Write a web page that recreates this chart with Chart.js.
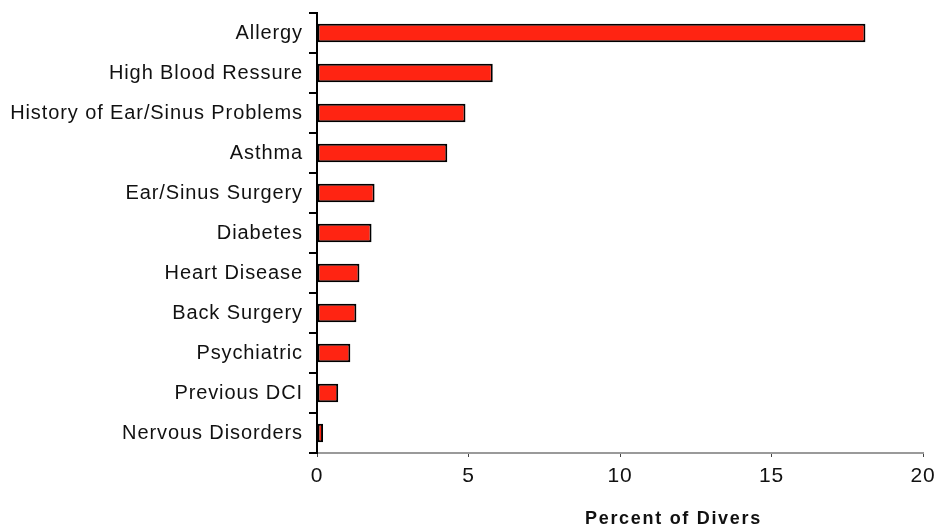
<!DOCTYPE html>
<html>
<head>
<meta charset="utf-8">
<script src="https://cdn.jsdelivr.net/npm/chart.js@4.4.1/dist/chart.umd.min.js"></script>
<style>
html,body{margin:0;padding:0;background:#fff;}
#wrap{width:940px;height:527px;position:relative;}
</style>
</head>
<body>
<div id="wrap"><canvas id="c" width="940" height="527"></canvas></div>
<script>
const categories = ["Allergy","High Blood Ressure","History of Ear/Sinus Problems","Asthma","Ear/Sinus Surgery","Diabetes","Heart Disease","Back Surgery","Psychiatric","Previous DCI","Nervous Disorders"];
const percentValues = [18.1, 5.8, 4.9, 4.3, 1.9, 1.8, 1.4, 1.3, 1.1, 0.7, 0.2];
const xTicks = [0, 5, 10, 15, 20];
const xTitle = "Percent of Divers";

const spacingPlugin = {
  id: 'spacing',
  beforeDraw(chart) { chart.ctx.letterSpacing = '0.9px'; },
  afterDraw(chart) {
    const ctx = chart.ctx;
    ctx.save();
    ctx.letterSpacing = '1.7px';
    ctx.font = 'bold 18px "Liberation Sans", Arial, sans-serif';
    ctx.fillStyle = '#111';
    ctx.textAlign = 'left';
    ctx.textBaseline = 'alphabetic';
    ctx.fillText(xTitle, 585, 524);
    ctx.restore();
  }
};

new Chart(document.getElementById('c'), {
  type: 'bar',
  data: {
    labels: categories,
    datasets: [{
      data: percentValues,
      backgroundColor: '#ff2412',
      borderColor: '#000',
      borderWidth: 2,
      borderSkipped: false,
      barPercentage: 0.46,
      categoryPercentage: 1.0
    }]
  },
  options: {
    indexAxis: 'y',
    responsive: false,
    animation: false,
    devicePixelRatio: 1,
    layout: { padding: { top: 13, right: 17, bottom: 0, left: 0 } },
    plugins: { legend: { display: false }, tooltip: { enabled: false } },
    scales: {
      x: {
        type: 'linear',
        min: 0, max: 20,
        afterBuildTicks(scale) { scale.ticks = xTicks.map(v => ({ value: v })); },
        afterFit(scale) { scale.height = 74; scale.paddingLeft = 0; scale.paddingRight = 0; },
        border: { display: true, color: '#9a9a9a', width: 2 },
        grid: { display: true, drawOnChartArea: false, drawTicks: true, tickLength: 4, color: '#444', lineWidth: 1 },
        ticks: { font: { family: '"Liberation Sans", Arial, sans-serif', size: 21 }, color: '#111', padding: 7, maxRotation: 0 }
      },
      y: {
        afterFit(scale) { scale.width = 317; scale.paddingTop = 0; scale.paddingBottom = 0; },
        border: { display: true, color: '#000', width: 2 },
        grid: { display: true, offset: true, drawOnChartArea: false, drawTicks: true, tickLength: 8, color: '#000', lineWidth: 2 },
        ticks: { font: { family: '"Liberation Sans", Arial, sans-serif', size: 20 }, color: '#111', padding: 6 }
      }
    }
  },
  plugins: [spacingPlugin]
});
</script>
</body>
</html>
